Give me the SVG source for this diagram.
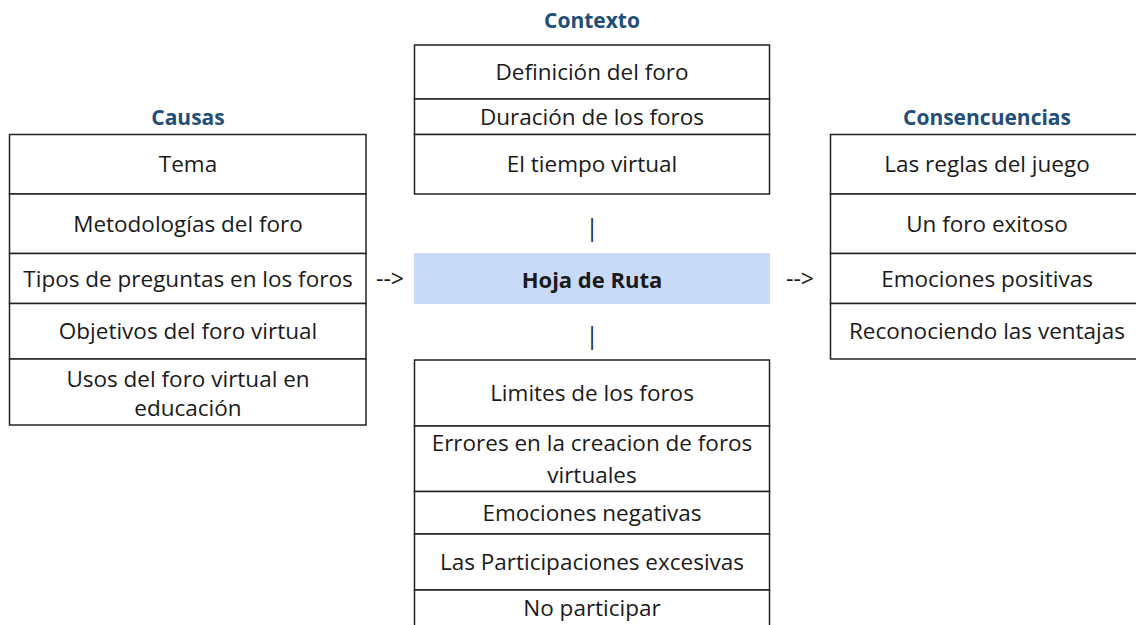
<svg xmlns="http://www.w3.org/2000/svg" width="1136" height="625" viewBox="0 0 1136 625">
<style>
.cell{fill:#ffffff;stroke:#222;stroke-width:1.5}
.hl{fill:#c9daf8;stroke:none}
.t{font-family:"Open Sans","Liberation Sans",sans-serif;font-size:22.5px;fill:#1a1a1a;text-anchor:middle}
.h{font-family:"Open Sans","Liberation Sans",sans-serif;font-size:21px;font-weight:bold;fill:#1f4e79;text-anchor:middle}
.b{font-family:"Open Sans","Liberation Sans",sans-serif;font-size:22px;font-weight:bold;fill:#1a1a1a;text-anchor:middle}
.c{font-family:"Open Sans","Liberation Sans",sans-serif;font-size:23px;fill:#1a1a1a;text-anchor:middle}
</style>
<rect width="1136" height="625" fill="#ffffff"/>
<g id="causas">
<text class="h" x="188" y="125">Causas</text>
<rect class="cell" x="9.5" y="134.5" width="356.5" height="59.5"/>
<rect class="cell" x="9.5" y="194" width="356.5" height="59.5"/>
<rect class="cell" x="9.5" y="253.5" width="356.5" height="50"/>
<rect class="cell" x="9.5" y="303.5" width="356.5" height="55.5"/>
<rect class="cell" x="9.5" y="359" width="356.5" height="66"/>
<text class="t" x="188" y="172">Tema</text>
<text class="t" x="188" y="232">Metodologías del foro</text>
<text class="t" x="188" y="287">Tipos de preguntas en los foros</text>
<text class="t" x="188" y="339">Objetivos del foro virtual</text>
<text class="t" x="188" y="387">Usos del foro virtual en</text>
<text class="t" x="188" y="416">educación</text>
</g>
<g id="contexto">
<text class="h" x="592" y="28">Contexto</text>
<rect class="cell" x="414.5" y="45" width="355" height="54"/>
<rect class="cell" x="414.5" y="99" width="355" height="35.5"/>
<rect class="cell" x="414.5" y="134.5" width="355" height="59.5"/>
<text class="t" x="592" y="80">Definición del foro</text>
<text class="t" x="592" y="125">Duración de los foros</text>
<text class="t" x="592" y="172">El tiempo virtual</text>
</g>
<g id="hoja">
<rect class="hl" x="414" y="253" width="356" height="51"/>
<text class="b" x="592" y="288">Hoja de Ruta</text>
</g>
<g id="consecuencias">
<text class="h" x="987" y="125">Consencuencias</text>
<rect class="cell" x="830.5" y="134.5" width="314" height="59.5"/>
<rect class="cell" x="830.5" y="194" width="314" height="59.5"/>
<rect class="cell" x="830.5" y="253.5" width="314" height="50"/>
<rect class="cell" x="830.5" y="303.5" width="314" height="55.5"/>
<text class="t" x="987" y="172">Las reglas del juego</text>
<text class="t" x="987" y="232">Un foro exitoso</text>
<text class="t" x="987" y="287">Emociones positivas</text>
<text class="t" x="987" y="339">Reconociendo las ventajas</text>
</g>
<g id="limites">
<rect class="cell" x="414.5" y="360" width="355" height="66"/>
<rect class="cell" x="414.5" y="426" width="355" height="65.5"/>
<rect class="cell" x="414.5" y="491.5" width="355" height="42.5"/>
<rect class="cell" x="414.5" y="534" width="355" height="56"/>
<rect class="cell" x="414.5" y="590" width="355" height="45"/>
<text class="t" x="592" y="401">Limites de los foros</text>
<text class="t" x="592" y="451">Errores en la creacion de foros</text>
<text class="t" x="592" y="483">virtuales</text>
<text class="t" x="592" y="521">Emociones negativas</text>
<text class="t" x="592" y="570">Las Participaciones excesivas</text>
<text class="t" x="592" y="616">No participar</text>
</g>
<g id="connectors">
<text class="c" x="390" y="287">--&gt;</text>
<text class="c" x="800" y="287">--&gt;</text>
<text class="c" x="592" y="236">|</text>
<text class="c" x="592" y="344">|</text>
</g>
</svg>
